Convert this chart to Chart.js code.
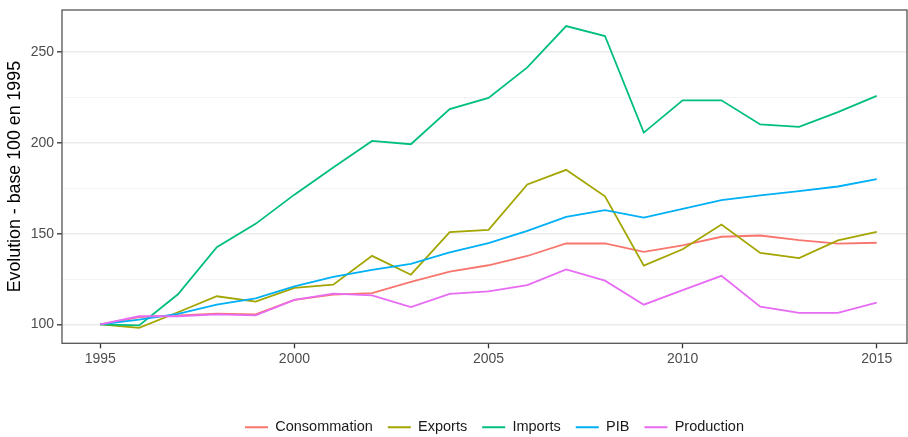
<!DOCTYPE html>
<html>
<head>
<meta charset="utf-8">
<script src="https://cdn.jsdelivr.net/npm/chart.js@4/dist/chart.umd.min.js"></script>
<style>
  html, body { margin: 0; padding: 0; background: #fff; }
  #wrap { width: 908px; height: 437px; position: relative; }
</style>
</head>
<body>
<div id="wrap"><canvas id="chart"></canvas></div>
<script>
const years = [1995, 1996, 1997, 1998, 1999, 2000, 2001, 2002, 2003, 2004, 2005,
  2006, 2007, 2008, 2009, 2010, 2011, 2012, 2013, 2014, 2015];

const consommation = [100, 104, 105, 106, 105.5, 113.5, 116.4, 117.3, 123.5, 129.1, 132.6,
  137.7, 144.6, 144.6, 140, 143.5, 148.3, 149, 146.5, 144.5, 145];
const exports_ = [100, 98.1, 106.7, 115.5, 112.6, 120.1, 121.9, 137.8, 127.4, 150.9, 152.1,
  177.1, 185.2, 170.6, 132.4, 141.4, 155, 139.4, 136.5, 146.3, 151];
const imports_ = [100, 99.5, 116.6, 142.6, 155.4, 171.5, 186.5, 201.1, 199.3, 218.6, 224.8,
  241.6, 264.4, 258.9, 205.7, 223.5, 223.5, 210.2, 208.8, 217, 225.9];
const pib = [100, 102.7, 105.8, 110.9, 114.4, 121, 126.2, 130, 133.3, 139.7, 144.8,
  151.5, 159.2, 163, 158.8, 163.6, 168.5, 171.1, 173.4, 176, 180];
const production = [100, 104.5, 104.5, 105.5, 105, 113.5, 117, 116, 109.6, 116.8, 118.2,
  121.7, 130.3, 124.1, 110.9, 118.9, 126.8, 109.8, 106.4, 106.4, 112];

const seriesNames = ["Consommation", "Exports", "Imports", "PIB", "Production"];
const seriesValues = [consommation, exports_, imports_, pib, production];
const seriesColors = ["#F8766D", "#A3A500", "#00BF7D", "#00B0F6", "#E76BF3"];

const xTicks = [1995, 2000, 2005, 2010, 2015];
const yTicks = [100, 125, 150, 175, 200, 225, 250];
const yLabelled = [100, 150, 200, 250];

Chart.defaults.font.family = "'Liberation Sans', Arial, Helvetica, sans-serif";
Chart.defaults.color = "#4d4d4d";

// panel border like ggplot theme_bw
const panelBorder = {
  id: "panelBorder",
  afterDatasetsDraw(chart) {
    const { ctx, chartArea: a } = chart;
    ctx.save();
    ctx.strokeStyle = "#555";
    ctx.lineWidth = 1.3;
    ctx.strokeRect(a.left, a.top, a.right - a.left, a.bottom - a.top);
    ctx.restore();
  },
};

// ggplot puts the legend lower and centred on the panel, nudge it
const legendNudge = {
  id: "legendNudge",
  afterLayout(chart) {
    const lg = chart.legend;
    if (!lg) return;
    lg.top += 7.5;
    lg.bottom += 7.5;
    lg.left += 82;
  },
};

new Chart(document.getElementById("chart"), {
  type: "line",
  data: {
    datasets: seriesNames.map((name, i) => ({
      label: name,
      data: years.map((y, j) => ({ x: y, y: seriesValues[i][j] })),
      borderColor: seriesColors[i],
      backgroundColor: seriesColors[i],
      borderWidth: 1.8,
      pointRadius: 0,
      tension: 0,
      fill: false,
      order: seriesNames.length - i,
    })),
  },
  options: {
    responsive: true,
    maintainAspectRatio: false,
    animation: false,
    layout: { padding: { top: 7, right: 1, left: 0, bottom: 0 } },
    plugins: {
      tooltip: { enabled: false },
      legend: {
        display: true,
        position: "bottom",
        labels: {
          usePointStyle: true,
          pointStyle: "line",
          pointStyleWidth: 23,
          padding: 15,
          color: "#1a1a1a",
          font: { size: 14.5 },
          sort: (a, b) => a.datasetIndex - b.datasetIndex,
        },
      },
    },
    scales: {
      x: {
        type: "linear",
        min: 1994.013,
        max: 2015.78,
        afterBuildTicks: (s) => { s.ticks = xTicks.map((v) => ({ value: v })); },
        afterFit: (s) => { s.height = 54.2; },
        border: { display: false },
        grid: {
          drawOnChartArea: false,
          drawTicks: true,
          tickLength: 5,
          tickColor: "#333",
          tickWidth: 1.3,
        },
        ticks: {
          autoSkip: false,
          maxRotation: 0,
          padding: 2,
          font: { size: 14 },
          color: "#4d4d4d",
          callback: (v) => String(v),
        },
      },
      y: {
        min: 89.6,
        max: 273.24,
        afterBuildTicks: (s) => { s.ticks = yTicks.map((v) => ({ value: v })); },
        afterFit: (s) => { s.width = 62; },
        border: { display: false },
        grid: {
          color: (c) => (yLabelled.includes(c.tick.value) ? "#ebebeb" : "#f3f3f3"),
          lineWidth: (c) => (yLabelled.includes(c.tick.value) ? 1.6 : 0.9),
          tickColor: (c) => (yLabelled.includes(c.tick.value) ? "#333" : "rgba(0,0,0,0)"),
          tickWidth: 1.3,
          tickLength: 5,
        },
        ticks: {
          padding: 3,
          font: { size: 14, lineHeight: 1 },
          color: "#4d4d4d",
          callback: (v) => (yLabelled.includes(v) ? String(v) : ""),
        },
        title: {
          display: true,
          text: "Evolution - base 100 en 1995",
          color: "#000",
          font: { size: 17.8, lineHeight: 1 },
          padding: { top: 6, bottom: 0 },
        },
      },
    },
  },
  plugins: [panelBorder, legendNudge],
});
</script>
</body>
</html>
